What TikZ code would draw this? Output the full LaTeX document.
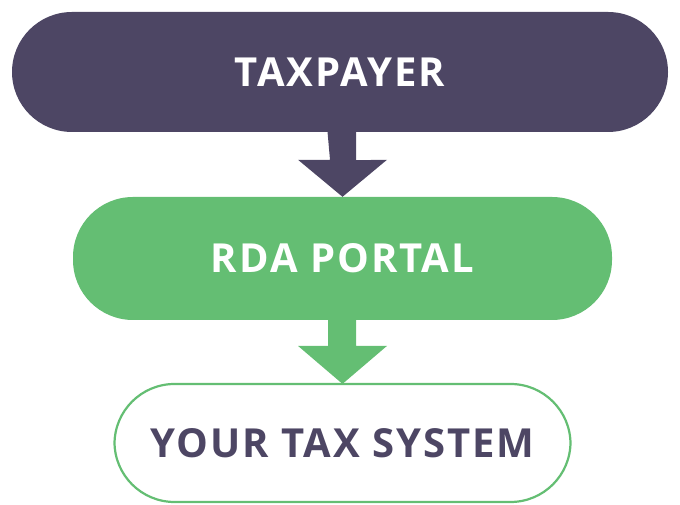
\documentclass[tikz,border=0pt]{standalone}
\usepackage{fontspec}
\setmainfont{Open Sans}[LetterSpace=5]
\usetikzlibrary{calc}
\definecolor{dpurple}{HTML}{4D4664}
\definecolor{lgreen}{HTML}{64BE73}
\begin{document}
\begin{tikzpicture}[x=1pt,y=1pt,
  pill/.style={rectangle,rounded corners=60pt,inner sep=0pt,minimum height=120pt,
    font=\fontsize{40}{48}\selectfont\bfseries},
  arrowfill/.style={fill=#1,draw=none}]
\useasboundingbox (0,0) rectangle (680,505);
\node[pill,fill=dpurple,text=white,minimum width=656pt] (tax) at (340,433) {TAXPAYER};
\node[pill,fill=lgreen,text=white,minimum width=539pt,minimum height=123pt] (rda) at (342.5,246.5) {RDA PORTAL};
\node[pill,draw=lgreen,line width=2.2pt,fill=white,text=dpurple,minimum width=456pt,minimum height=118pt] (sys) at (342.5,62) {YOUR TAX SYSTEM};
% arrow 1
\fill[dpurple] ($(tax.south)+(-12.5,0.5)$) -- ($(tax.south)+(16,0.5)$) -- ++(0,-28.5)
  -- ($(rda.north)+(44.5,37)$) -- (rda.north) -- ($(rda.north)+(-44.5,37)$) -- ($(rda.north)+(-12.5,37)$) -- cycle;
% arrow 2
\fill[lgreen] ($(rda.south)+(-14.5,0.5)$) -- ($(rda.south)+(13.5,0.5)$) -- ($(sys.north)+(13.5,37)$)
  -- ($(sys.north)+(44.5,37)$) -- ($(sys.north)+(0,-1)$) -- ($(sys.north)+(-44.5,37)$) -- ($(sys.north)+(-14.5,37)$) -- cycle;
\end{tikzpicture}
\end{document}
